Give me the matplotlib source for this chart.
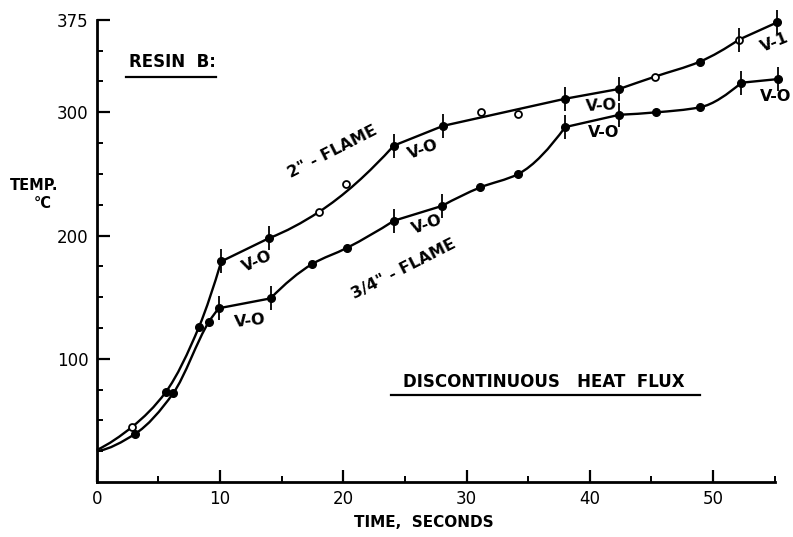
import matplotlib.pyplot as plt
from matplotlib.path import Path
from matplotlib.patches import PathPatch
import numpy as np

# 2" flame (upper curve)
t_2in = [0.0, 2.9, 5.6, 8.3, 10.1, 14.0, 18.0, 20.2, 24.1, 28.1, 31.2, 34.2, 38.0, 42.4, 45.3, 48.9, 52.1, 55.2]
temp_2in = [26, 45, 73, 126, 179, 198, 219, 242, 273, 289, 300, 299, 311, 319, 329, 341, 359, 373]
open_2in = [False, True, False, False, False, False, True, True, False, False, True, True, False, False, True, False, True, False]
bars_2in = [10.1, 14.0, 24.1, 28.1, 38.0, 42.4, 52.1, 55.2]
off_curve_2in = [20.2, 31.2, 34.2]  # scattered points the drawn curve misses

# 3/4" flame (lower curve)
t_34in = [0.0, 3.1, 6.2, 9.1, 9.9, 14.1, 17.5, 20.3, 24.1, 28.0, 31.1, 34.2, 38.0, 42.4, 45.4, 48.9, 52.3, 55.3]
temp_34in = [25, 39, 72, 130, 141, 149, 177, 190, 212, 224, 239, 250, 288, 298, 300, 304, 324, 327]
open_34in = [False] * len(t_34in)
bars_34in = [9.9, 14.1, 24.1, 28.0, 38.0, 42.4, 52.3, 55.3]
off_curve_34in = []

# rating labels: x, y, text, rotation
ratings = [
    (13.0, 179, "V-O", 25), (12.4, 131, "V-O", 6),
    (26.5, 270, "V-O", 20), (26.8, 209, "V-O", 20),
    (40.9, 305, "V-O", 3), (41.1, 284, "V-O", 0),
    (55.0, 357, "V-1", 22), (55.1, 313, "V-O", 0),
]

plt.rcParams['font.family'] = ['DejaVu Sans']
plt.rcParams['font.weight'] = 'bold'


def pchip_slopes(sx, sy):
    n = len(sx)
    h = np.diff(sx)
    d = np.diff(sy) / h
    m = np.zeros(n)
    if n == 2:
        m[:] = d[0]
        return m
    for i in range(1, n - 1):
        if d[i - 1] * d[i] <= 0:
            m[i] = 0
        else:
            w1 = 2 * h[i] + h[i - 1]
            w2 = h[i] + 2 * h[i - 1]
            m[i] = (w1 + w2) / (w1 / d[i - 1] + w2 / d[i])
    m[0] = ((2 * h[0] + h[1]) * d[0] - h[0] * d[1]) / (h[0] + h[1])
    if m[0] * d[0] <= 0:
        m[0] = 0
    elif abs(m[0]) > 3 * abs(d[0]):
        m[0] = 3 * d[0]
    m[-1] = ((2 * h[-1] + h[-2]) * d[-1] - h[-1] * d[-2]) / (h[-1] + h[-2])
    if m[-1] * d[-1] <= 0:
        m[-1] = 0
    elif abs(m[-1]) > 3 * abs(d[-1]):
        m[-1] = 3 * d[-1]
    return m


def smooth_path(xs, ys, breaks, skip):
    # bezier through the points, with corners at the bar points
    pts = [(x, y) for x, y in zip(xs, ys) if x not in skip]
    xs = np.array([p[0] for p in pts], float)
    ys = np.array([p[1] for p in pts], float)
    cut = [0] + [i for i in range(1, len(xs) - 1) if xs[i] in breaks] + [len(xs) - 1]
    verts = [(xs[0], ys[0])]
    codes = [Path.MOVETO]
    for a, b in zip(cut[:-1], cut[1:]):
        sx, sy = xs[a:b + 1], ys[a:b + 1]
        m = pchip_slopes(sx, sy)
        for i in range(len(sx) - 1):
            h = sx[i + 1] - sx[i]
            verts += [(sx[i] + h / 3, sy[i] + m[i] * h / 3),
                      (sx[i + 1] - h / 3, sy[i + 1] - m[i + 1] * h / 3),
                      (sx[i + 1], sy[i + 1])]
            codes += [Path.CURVE4] * 3
    return Path(verts, codes)


fig = plt.figure(figsize=(7.93, 5.37), dpi=100)
ax = fig.add_axes([0.122, 0.1024, 0.855, 0.8606])

for xs, ys, opn, bars, skip in [(t_2in, temp_2in, open_2in, bars_2in, off_curve_2in),
                                (t_34in, temp_34in, open_34in, bars_34in, off_curve_34in)]:
    ax.add_patch(PathPatch(smooth_path(xs, ys, bars, skip), fill=False, lw=1.7,
                           color='black', clip_on=False))
    xs = np.array(xs)
    ys = np.array(ys)
    opn = np.array(opn)
    ax.plot(xs[~opn][1:], ys[~opn][1:], 'o', ms=5.5, color='black', clip_on=False)
    ax.plot(xs[opn], ys[opn], 'o', ms=5, mfc='white', mec='black', mew=1.3, clip_on=False)
    by = [ys[list(xs).index(b)] for b in bars]
    ax.plot(bars, by, '|', ms=17, mew=1.3, color='black', clip_on=False)

for x, y, s, r in ratings:
    ax.text(x, y, s, fontsize=11.5, rotation=r, ha='center', va='center')

ax.text(19.1, 268, '2" - FLAME', fontsize=11.5, rotation=27, ha='center', va='center')
ax.text(24.9, 173, '3/4" - FLAME', fontsize=11.5, rotation=27, ha='center', va='center')

ax.text(6.1, 341, 'RESIN  B:', fontsize=12, ha='center', va='center')
ax.plot([2.4, 9.7], [329, 329], color='black', lw=1.6)
ax.text(36.3, 81, 'DISCONTINUOUS   HEAT  FLUX', fontsize=12, ha='center', va='center')
ax.plot([23.9, 48.9], [71, 71], color='black', lw=1.6)

ax.text(-5.1, 241, 'TEMP.', fontsize=10.5, ha='center', va='center', clip_on=False)
ax.text(-4.4, 226, '°C', fontsize=10.5, ha='center', va='center', clip_on=False)
ax.text(26.5, -33, 'TIME,  SECONDS', fontsize=11, ha='center', va='center', clip_on=False)

ax.set_xlim(0, 55)
ax.set_ylim(0, 375)
ax.set_xticks([0, 10, 20, 30, 40, 50])
ax.set_xticks([5, 15, 25, 35, 45, 55], minor=True)
ax.set_yticks([100, 200, 300, 375])
ax.set_yticks([25, 50, 75, 125, 150, 175, 225, 250, 275, 325, 350], minor=True)
ax.tick_params(which='major', direction='in', length=9, width=1.6, labelsize=12, pad=6)
ax.tick_params(which='minor', direction='in', length=4, width=1.4)
for lab in ax.get_xticklabels() + ax.get_yticklabels():
    lab.set_fontweight('normal')
ax.spines['top'].set_visible(False)
ax.spines['right'].set_visible(False)
ax.spines['left'].set_linewidth(2)
ax.spines['bottom'].set_linewidth(2)

plt.savefig('out.png', dpi=100)
